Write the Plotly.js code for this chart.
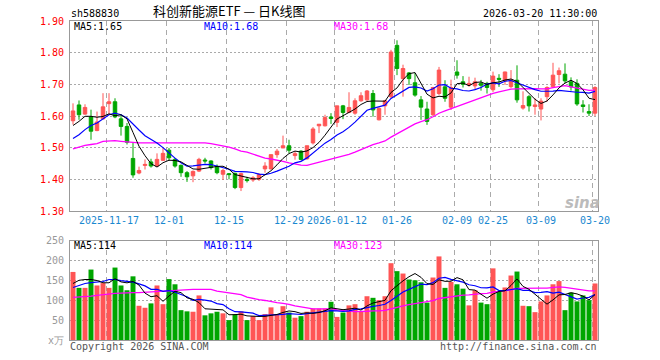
<!DOCTYPE html>
<html><head><meta charset="utf-8">
<script src="https://cdn.plot.ly/plotly-3.0.1.min.js"></script>
<style>html,body{margin:0;padding:0;background:#fff}#chart{width:660px;height:360px}</style>
</head><body><div id="chart"></div>
<script>
const dates = [
"2025-11-07","2025-11-10","2025-11-11","2025-11-12","2025-11-13","2025-11-14",
"2025-11-17","2025-11-18","2025-11-19","2025-11-20","2025-11-21",
"2025-11-24","2025-11-25","2025-11-26","2025-11-27","2025-11-28",
"2025-12-01","2025-12-02","2025-12-03","2025-12-04","2025-12-05",
"2025-12-08","2025-12-09","2025-12-10","2025-12-11","2025-12-12",
"2025-12-15","2025-12-16","2025-12-17","2025-12-18","2025-12-19",
"2025-12-22","2025-12-23","2025-12-24","2025-12-25","2025-12-26",
"2025-12-29","2025-12-30","2025-12-31",
"2026-01-05","2026-01-06","2026-01-07","2026-01-08","2026-01-09",
"2026-01-12","2026-01-13","2026-01-14","2026-01-15","2026-01-16",
"2026-01-19","2026-01-20","2026-01-21","2026-01-22","2026-01-23",
"2026-01-26","2026-01-27","2026-01-28","2026-01-29","2026-01-30",
"2026-02-02","2026-02-03","2026-02-04","2026-02-05","2026-02-06",
"2026-02-09","2026-02-10","2026-02-11","2026-02-12","2026-02-13",
"2026-02-24","2026-02-25","2026-02-26","2026-02-27",
"2026-03-02","2026-03-03","2026-03-04","2026-03-05","2026-03-06",
"2026-03-09","2026-03-10","2026-03-11","2026-03-12","2026-03-13",
"2026-03-16","2026-03-17","2026-03-18","2026-03-19","2026-03-20"];

const openP = [1.585,1.635,1.606,1.597,1.554,1.591,1.639,1.645,1.591,1.567,
1.466,1.420,1.444,1.455,1.442,1.460,1.492,1.463,1.444,1.421,
1.411,1.426,1.461,1.458,1.440,1.416,1.418,1.419,1.374,1.400,
1.398,1.400,1.433,1.433,1.478,1.499,1.506,1.475,1.489,1.465,
1.515,1.569,1.569,1.597,1.580,1.632,1.611,1.609,1.648,1.651,
1.671,1.588,1.632,1.661,1.823,1.718,1.736,1.705,1.651,1.622,
1.604,1.671,1.692,1.628,1.739,1.708,1.698,1.695,1.703,1.703,
1.683,1.719,1.711,1.693,1.713,1.625,1.661,1.630,1.622,1.661,
1.692,1.731,1.732,1.708,1.703,1.635,1.614,1.609];
const highP = [1.640,1.649,1.637,1.620,1.614,1.672,1.672,1.656,1.606,1.578,
1.515,1.440,1.463,1.465,1.482,1.499,1.499,1.468,1.447,1.426,
1.428,1.468,1.468,1.460,1.447,1.433,1.420,1.421,1.421,1.408,
1.410,1.420,1.454,1.478,1.496,1.538,1.525,1.489,1.492,1.506,
1.565,1.574,1.604,1.609,1.632,1.635,1.675,1.656,1.675,1.682,
1.682,1.627,1.651,1.809,1.839,1.762,1.739,1.736,1.663,1.645,
1.692,1.755,1.713,1.715,1.776,1.726,1.724,1.721,1.714,1.708,
1.740,1.732,1.740,1.745,1.760,1.678,1.666,1.656,1.656,1.694,
1.768,1.753,1.766,1.722,1.716,1.650,1.637,1.694];
const lowP = [1.573,1.588,1.604,1.525,1.552,1.588,1.604,1.593,1.538,1.510,
1.405,1.416,1.431,1.437,1.440,1.458,1.458,1.437,1.408,1.392,
1.391,1.423,1.450,1.431,1.416,1.398,1.400,1.369,1.363,1.390,
1.392,1.395,1.421,1.431,1.468,1.499,1.483,1.462,1.460,1.462,
1.510,1.546,1.567,1.575,1.565,1.590,1.609,1.604,1.645,1.648,
1.598,1.586,1.604,1.656,1.729,1.661,1.698,1.661,1.588,1.572,
1.600,1.666,1.645,1.619,1.718,1.690,1.692,1.682,1.680,1.671,
1.676,1.692,1.698,1.688,1.642,1.620,1.614,1.604,1.586,1.645,
1.690,1.703,1.703,1.680,1.632,1.611,1.600,1.600];
const closeP = [1.616,1.604,1.627,1.552,1.581,1.629,1.645,1.597,1.567,1.517,
1.414,1.428,1.447,1.442,1.463,1.482,1.468,1.442,1.421,1.408,
1.425,1.463,1.458,1.437,1.421,1.428,1.415,1.374,1.418,1.396,
1.405,1.415,1.442,1.478,1.489,1.506,1.492,1.481,1.463,1.506,
1.559,1.574,1.595,1.592,1.632,1.611,1.627,1.648,1.664,1.679,
1.619,1.624,1.648,1.802,1.750,1.750,1.718,1.666,1.628,1.583,
1.690,1.745,1.656,1.690,1.729,1.700,1.703,1.708,1.697,1.690,
1.726,1.716,1.739,1.713,1.651,1.633,1.632,1.635,1.647,1.690,
1.729,1.743,1.711,1.692,1.638,1.630,1.609,1.690];
const volume = [171,131,131,177,137,143,131,182,137,125,
160,86,81,92,137,90,153,140,75,72,
71,112,62,67,71,67,50,64,72,50,
60,50,65,82,64,85,69,56,60,71,
79,79,79,96,58,69,87,90,72,110,
106,100,110,193,173,167,152,150,145,94,
157,210,131,146,140,129,87,125,94,90,
180,121,132,162,172,86,85,70,97,112,
140,148,75,119,97,112,100,142];

// moving-average values before enough history exists
const ma5Head = [1.570,1.583,1.599,1.599];
const ma10Head = [1.529,1.541,1.557,1.570,1.578,1.590,1.604,1.609,1.604];
const ma30Head = [1.496,1.502,1.507,1.510,1.513,1.520,1.522,1.522,1.520,1.518,
1.516,1.515,1.515,1.515,1.515,1.515,1.515,1.515,1.516,1.516,
1.516,1.516,1.515,1.513,1.510,1.507,1.502,1.496,1.489];
const vma5Head = [142,150,152,152];
const vma10Head = [132,137,142,144,146,147,152,152,149];
const vma30Head = [107,108,108,110,112,114,116,117,118,119,
119,119,120,121,122,123,124,125,125,126,
127,127,127,127,123,121,119,117,114];

const tickDates = ["2025-11-17","2025-12-01","2025-12-15","2025-12-29","2026-01-12","2026-01-26","2026-02-09","2026-02-25","2026-03-09","2026-03-20"];
const tickLabels = ["2025-11-17","12-01","12-15","12-29","2026-01-12","01-26","02-09","02-25","03-09","03-20"];
const priceTicks = [1.30,1.40,1.50,1.60,1.70,1.80,1.90];
const volTicks = [0,50,100,150,200,250];
const volTickLabels = ["x万","50","100","150","200","250"];

const titleText = "科创新能源ETF — 日K线图";
const codeText = "sh588830";
const timeText = "2026-03-20 11:30:00";
const priceMaLabels = ["MA5:1.65","MA10:1.68","MA30:1.68"];
const volMaLabels = ["MA5:114","MA10:114","MA30:123"];

function movingAvg(arr, n, head){
  return arr.map((v,i)=>{
    if(i < n-1) return head[i];
    let s=0; for(let k=i-n+1;k<=i;k++) s+=arr[k];
    return s/n;
  });
}

const RED = "#ff5555", GREEN = "#00a600";
const MONO = "DejaVu Sans Mono, monospace";
const volColors = closeP.map((c,i)=> c >= openP[i] ? RED : GREEN);

const traces = [
  {type:"candlestick", x:dates, open:openP, high:highP, low:lowP, close:closeP,
   xaxis:"x", yaxis:"y", whiskerwidth:0,
   increasing:{line:{color:RED,width:1}, fillcolor:RED},
   decreasing:{line:{color:GREEN,width:1}, fillcolor:GREEN}, hoverinfo:"skip"},
  {type:"scatter", mode:"lines", x:dates, y:movingAvg(closeP,30,ma30Head), line:{color:"#ff00ff",width:1.3}, xaxis:"x", yaxis:"y"},
  {type:"scatter", mode:"lines", x:dates, y:movingAvg(closeP,10,ma10Head), line:{color:"#0000ff",width:1.2}, xaxis:"x", yaxis:"y"},
  {type:"scatter", mode:"lines", x:dates, y:movingAvg(closeP,5,ma5Head), line:{color:"#000000",width:1}, xaxis:"x", yaxis:"y"},
  {type:"bar", x:dates, y:volume, marker:{color:volColors, line:{width:0}}, xaxis:"x2", yaxis:"y2"},
  {type:"scatter", mode:"lines", x:dates, y:movingAvg(volume,30,vma30Head), line:{color:"#ff00ff",width:1.3}, xaxis:"x2", yaxis:"y2"},
  {type:"scatter", mode:"lines", x:dates, y:movingAvg(volume,10,vma10Head), line:{color:"#0000ff",width:1.2}, xaxis:"x2", yaxis:"y2"},
  {type:"scatter", mode:"lines", x:dates, y:movingAvg(volume,5,vma5Head), line:{color:"#000000",width:1}, xaxis:"x2", yaxis:"y2"}
];

const gridV = {showgrid:true, gridcolor:"#aaaaaa", griddash:"5px,4px", gridwidth:1};
const frame = {showline:true, linecolor:"#999999", linewidth:1, mirror:true, zeroline:false};

const layout = {
  width:660, height:360, paper_bgcolor:"#ffffff", plot_bgcolor:"#ffffff",
  margin:{l:70, r:62, t:21, b:20}, showlegend:false, bargap:0.17, boxgap:0.17,
  xaxis: Object.assign({type:"category", domain:[0,1], anchor:"y", range:[-0.5,87.5],
    tickmode:"array", tickvals:tickDates, ticktext:tickLabels, tickson:"boundaries",
    ticks:"outside", ticklen:3, tickcolor:"rgba(0,0,0,0)",
    tickfont:{family:MONO, size:10, color:"#1a88d0"}, tickangle:0,
    rangeslider:{visible:false}, fixedrange:true}, gridV, frame),
  yaxis: Object.assign({domain:[0.4044,1], anchor:"x", range:[1.30,1.90],
    tickmode:"array", tickvals:priceTicks, ticktext:priceTicks.map(v=>v.toFixed(2)),
    ticks:"outside", ticklen:3, tickcolor:"rgba(0,0,0,0)",
    tickfont:{family:MONO, size:10, color:"#ff0000"},
    showgrid:true, gridcolor:"#aaaaaa", griddash:"2px,2px", gridwidth:1}, frame),
  xaxis2: Object.assign({type:"category", domain:[0,1], anchor:"y2", matches:"x",
    tickmode:"array", tickvals:tickDates, ticktext:tickLabels, tickson:"boundaries",
    showticklabels:false, ticks:"", fixedrange:true}, gridV, frame),
  yaxis2: Object.assign({domain:[0,0.3119], anchor:"x2", range:[0,250],
    tickmode:"array", tickvals:volTicks, ticktext:volTickLabels,
    ticks:"outside", ticklen:3, tickcolor:"rgba(0,0,0,0)",
    tickfont:{family:MONO, size:10, color:"#999999"},
    showgrid:true, gridcolor:"#aaaaaa", griddash:"2px,2px", gridwidth:1}, frame),
  annotations: [
    {xref:"paper", yref:"paper", x:0, y:1.0235, xanchor:"left", yanchor:"middle", text:codeText, showarrow:false, borderpad:0, font:{family:MONO,size:10,color:"#000"}},
    {xref:"paper", yref:"paper", x:0.302, y:1.033, xanchor:"center", yanchor:"middle", text:titleText, showarrow:false, borderpad:0, font:{family:"Noto Sans CJK SC",size:13,color:"#000"}},
    {xref:"paper", yref:"paper", x:1, y:1.0235, xanchor:"right", yanchor:"middle", text:timeText, showarrow:false, borderpad:0, font:{family:MONO,size:10,color:"#000"}},
    {xref:"paper", yref:"paper", x:0.005, y:0.982, xanchor:"left", yanchor:"middle", text:priceMaLabels[0], showarrow:false, borderpad:0, font:{family:MONO,size:10,color:"#000000"}},
    {xref:"paper", yref:"paper", x:0.2515, y:0.982, xanchor:"left", yanchor:"middle", text:priceMaLabels[1], showarrow:false, borderpad:0, font:{family:MONO,size:10,color:"#0000ff"}},
    {xref:"paper", yref:"paper", x:0.4975, y:0.982, xanchor:"left", yanchor:"middle", text:priceMaLabels[2], showarrow:false, borderpad:0, font:{family:MONO,size:10,color:"#ff00ff"}},
    {xref:"paper", yref:"paper", x:0.005, y:0.2947, xanchor:"left", yanchor:"middle", text:volMaLabels[0], showarrow:false, borderpad:0, font:{family:MONO,size:10,color:"#000000"}},
    {xref:"paper", yref:"paper", x:0.2515, y:0.2947, xanchor:"left", yanchor:"middle", text:volMaLabels[1], showarrow:false, borderpad:0, font:{family:MONO,size:10,color:"#0000ff"}},
    {xref:"paper", yref:"paper", x:0.4975, y:0.2947, xanchor:"left", yanchor:"middle", text:volMaLabels[2], showarrow:false, borderpad:0, font:{family:MONO,size:10,color:"#ff00ff"}},
    {xref:"paper", yref:"paper", x:-0.004, y:-0.019, xanchor:"left", yanchor:"middle", text:"Copyright 2026 SINA.COM", showarrow:false, font:{family:MONO,size:10,color:"#555555"}},
    {xref:"paper", yref:"paper", x:1.002, y:-0.019, xanchor:"right", yanchor:"middle", text:"http://finance.sina.com.cn", showarrow:false, font:{family:MONO,size:10,color:"#555555"}},
    {xref:"paper", yref:"paper", x:0.97, y:0.428, xanchor:"center", yanchor:"middle", text:"<b><i>sina</i></b>", showarrow:false, font:{family:"DejaVu Sans",size:15,color:"#bbbbbb"}}
  ]
};

Plotly.newPlot("chart", traces, layout, {staticPlot:true, displayModeBar:false});
</script></body></html>
